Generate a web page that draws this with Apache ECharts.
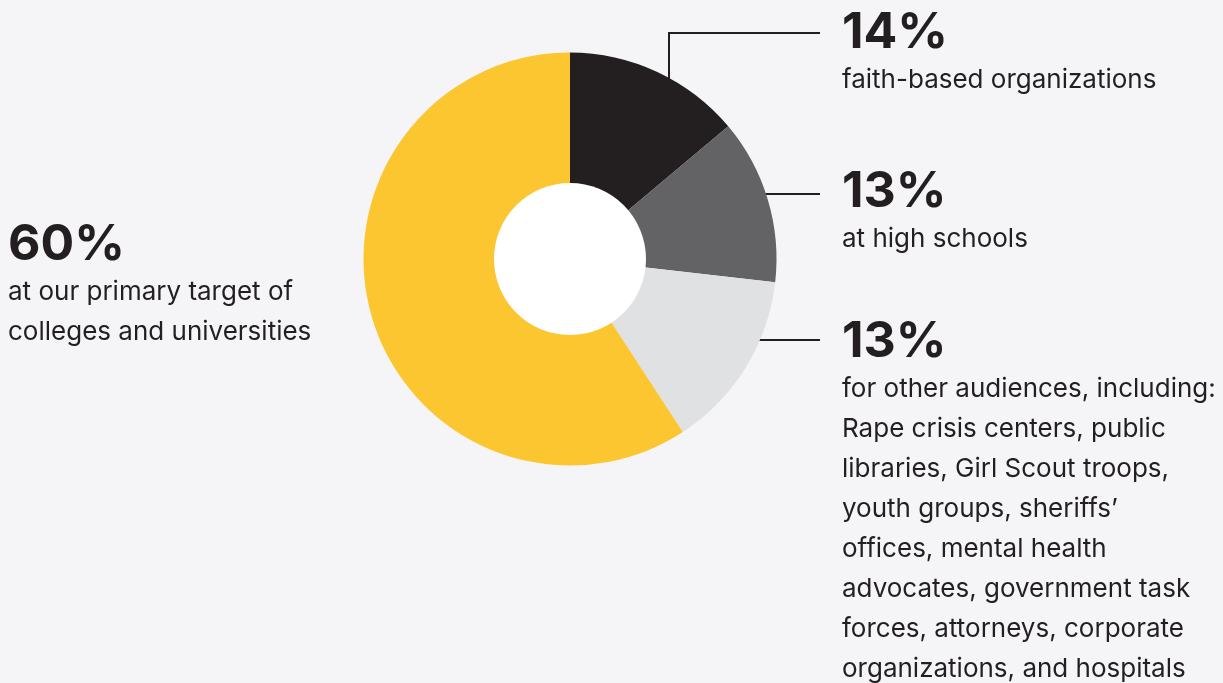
<!DOCTYPE html>
<html>
<head>
<meta charset="utf-8">
<script src="https://cdn.jsdelivr.net/npm/echarts@6/dist/echarts.min.js"></script>
<style>
html,body{margin:0;padding:0;background:#f5f5f7;}
#chart{width:1223px;height:683px;}
</style>
</head>
<body>
<div id="chart"></div>
<script>
// ---- data ----
const categories = ['faith-based', 'high schools', 'other audiences', 'colleges and universities'];
const sliceValues = [13.9, 12.9, 14.0, 59.2];
// percentages as printed in the labels
const percentLabels = ['14%', '13%', '13%', '60%'];
const descriptions = [
  'faith-based organizations',
  'at high schools',
  'for other audiences, including:\nRape crisis centers, public\nlibraries, Girl Scout troops,\nyouth groups, sheriffs\u2019\noffices, mental health\nadvocates, government task\nforces, attorneys, corporate\norganizations, and hospitals',
  'at our primary target of\ncolleges and universities'
];
const sliceColors = ['#231f20', '#636365', '#e0e1e3', '#fcc631'];

// ---- layout ----
const CX = 570, CY = 259, R_OUT = 206.5, R_IN = 76;
const labelPos = [[842, 6], [842, 165], [842, 315], [8, 218]];
const leaderY = [33, 194, 340];
const elbowX = 669, leaderEnd = 820;
const FONT = 'Inter, "Liberation Sans", sans-serif';

function leaderPoints(i) {
  if (i === 0) {
    const sy = CY - Math.sqrt(R_OUT * R_OUT - (elbowX - CX) * (elbowX - CX));
    return [[elbowX, sy + 4], [elbowX, leaderY[0]], [leaderEnd, leaderY[0]]];
  }
  const y = leaderY[i];
  const sx = CX + Math.sqrt(R_OUT * R_OUT - (y - CY) * (y - CY));
  return [[sx - 2, y], [(sx + leaderEnd) / 2, y], [leaderEnd, y]];
}

const chart = echarts.init(document.getElementById('chart'));
chart.setOption({
  backgroundColor: '#f5f5f7',
  animation: false,
  series: [
    {
      type: 'pie',
      center: [CX, CY],
      radius: [R_IN - 2, R_OUT],
      startAngle: 90,
      clockwise: true,
      avoidLabelOverlap: false,
      emphasis: { disabled: true },
      data: categories.map((c, i) => ({
        name: c,
        value: sliceValues[i],
        itemStyle: { color: sliceColors[i] },
        labelLine: { show: i < 3 }
      })),
      label: {
        show: true,
        position: 'outside',
        formatter: p => '{p|' + percentLabels[p.dataIndex] + '}\n{t|' + descriptions[p.dataIndex] + '}',
        rich: {
          p: { fontFamily: FONT, fontSize: 50, fontWeight: 'bold', color: '#231f20', lineHeight: 54 },
          t: { fontFamily: FONT, fontSize: 26, color: '#231f20', lineHeight: 40 }
        }
      },
      labelLine: {
        show: true,
        lineStyle: { color: '#231f20', width: 2 }
      },
      labelLayout: params => {
        const i = params.dataIndex;
        const out = { x: labelPos[i][0], y: labelPos[i][1], align: 'left', verticalAlign: 'top' };
        if (i < 3) out.labelLinePoints = leaderPoints(i);
        return out;
      }
    },
    {
      type: 'pie',
      center: [CX, CY],
      radius: [0, R_IN],
      silent: true,
      label: { show: false },
      labelLine: { show: false },
      emphasis: { disabled: true },
      data: [{ value: 1, name: 'hole', itemStyle: { color: '#ffffff' } }]
    }
  ]
});
</script>
</body>
</html>
